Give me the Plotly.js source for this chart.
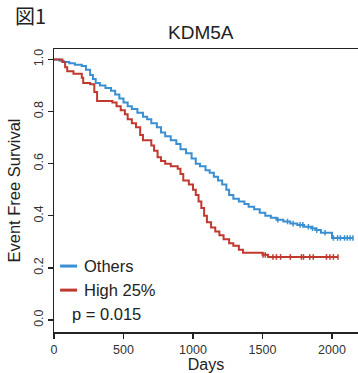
<!DOCTYPE html>
<html><head><meta charset="utf-8">
<script src="https://cdn.plot.ly/plotly-3.0.1.min.js"></script>
<style>body{margin:0;background:#fff}#c{width:358px;height:373px}</style>
</head><body><div id="c"></div>
<script>
// Others (blue) Kaplan-Meier steps
var othersDays = [0,40,70,110,150,200,230,260,280,300,330,370,410,440,470,500,530,560,600,640,670,700,740,770,800,840,880,910,950,990,1020,1050,1090,1120,1150,1180,1210,1240,1260,1290,1330,1370,1400,1440,1480,1520,1560,1600,1650,1700,1750,1800,1850,1880,1920,2000,2151];
var othersSurv = [1.0,0.995,0.99,0.985,0.98,0.975,0.96,0.94,0.925,0.91,0.9,0.89,0.88,0.865,0.85,0.835,0.82,0.81,0.795,0.78,0.77,0.755,0.74,0.72,0.705,0.69,0.675,0.655,0.64,0.62,0.6,0.59,0.575,0.565,0.55,0.535,0.52,0.5,0.48,0.465,0.455,0.445,0.435,0.425,0.412,0.4,0.392,0.385,0.378,0.37,0.365,0.358,0.352,0.345,0.335,0.315,0.315];
var othersCensDays = [1610,1680,1720,1770,1790,1830,1860,1890,1950,2010,2040,2060,2090,2110,2130,2151];
var othersCensSurv = [0.385,0.378,0.37,0.365,0.365,0.358,0.352,0.345,0.335,0.315,0.315,0.315,0.315,0.315,0.315,0.315];
// High 25% (red)
var highDays = [0,60,80,95,140,200,210,260,290,310,420,450,480,510,530,560,590,620,640,700,720,745,770,800,840,890,910,930,970,1000,1020,1040,1060,1080,1100,1130,1160,1190,1220,1260,1290,1330,1360,1500,1540,2043];
var highSurv = [1.0,0.99,0.97,0.955,0.945,0.93,0.91,0.905,0.875,0.84,0.835,0.82,0.805,0.79,0.77,0.755,0.74,0.71,0.69,0.67,0.65,0.625,0.61,0.6,0.59,0.58,0.56,0.535,0.52,0.5,0.48,0.455,0.43,0.4,0.375,0.355,0.34,0.325,0.31,0.295,0.285,0.27,0.258,0.25,0.242,0.242];
var highCensDays = [1504,1520,1575,1600,1630,1700,1780,1795,1840,1865,1960,1985,2010,2043];
var highCensSurv = [0.25,0.25,0.242,0.242,0.242,0.242,0.242,0.242,0.242,0.242,0.242,0.242,0.242,0.242];
var xTicks = [0,500,1000,1500,2000];
var yTicks = [0.0,0.2,0.4,0.6,0.8,1.0];
var yTickText = ['0.0','0.2','0.4','0.6','0.8','1.0'];

var blue = '#3a8fd2', red = '#c0392f', ink = '#222';
var F = 'Liberation Sans, Arial, sans-serif';

var traces = [
  {x: othersDays, y: othersSurv, mode: 'lines', line: {shape: 'hv', color: blue, width: 2}},
  {x: highDays, y: highSurv, mode: 'lines', line: {shape: 'hv', color: red, width: 2}},
  {x: othersCensDays, y: othersCensSurv, mode: 'markers', marker: {symbol: 'line-ns-open', size: 4, color: blue, line: {color: blue, width: 1.5}}},
  {x: highCensDays, y: highCensSurv, mode: 'markers', marker: {symbol: 'line-ns-open', size: 4, color: red, line: {color: red, width: 1.5}}}
];

var layout = {
  width: 358, height: 373,
  margin: {l: 54, r: 0, t: 49, b: 41},
  showlegend: false,
  paper_bgcolor: '#fff', plot_bgcolor: '#fff',
  font: {family: F, color: ink},
  xaxis: {
    range: [0, 2187], tickvals: xTicks, ticks: 'outside', ticklen: 5, tickwidth: 1.2, tickcolor: ink,
    showline: true, linecolor: ink, linewidth: 1.5, mirror: true, showgrid: false, zeroline: false,
    tickfont: {size: 12.5, color: '#333'},
    title: {text: 'Days', font: {size: 16, color: ink}, standoff: 3}
  },
  yaxis: {
    range: [-0.046, 1.04], tickvals: yTicks, ticktext: yTickText, tickangle: -90,
    ticks: 'outside', ticklen: 5, tickwidth: 1.2, tickcolor: ink,
    showline: true, linecolor: ink, linewidth: 1.5, showgrid: false, zeroline: false,
    tickfont: {size: 12.5, color: '#333'},
    title: {text: 'Event Free Survival', font: {size: 16.5, color: ink}, standoff: 6}
  },
  shapes: [
    {type: 'line', xref: 'paper', yref: 'paper', x0: 0.02, x1: 0.076, y0: 0.233, y1: 0.233, line: {color: blue, width: 3}},
    {type: 'line', xref: 'paper', yref: 'paper', x0: 0.02, x1: 0.076, y0: 0.148, y1: 0.148, line: {color: red, width: 3}}
  ],
  annotations: [
    {xref: 'paper', yref: 'paper', x: -0.135, y: 1.12, xanchor: 'left', yanchor: 'middle', text: '図1', showarrow: false, font: {family: 'Noto Sans CJK JP, sans-serif', size: 20, color: ink}},
    {xref: 'paper', yref: 'paper', x: 0.484, y: 1.057, xanchor: 'center', yanchor: 'middle', text: 'KDM5A', showarrow: false, font: {size: 19, color: ink}},
    {xref: 'paper', yref: 'paper', x: 0.092, y: 0.233, xanchor: 'left', yanchor: 'middle', text: 'Others', showarrow: false, font: {size: 16.5, color: ink}},
    {xref: 'paper', yref: 'paper', x: 0.092, y: 0.148, xanchor: 'left', yanchor: 'middle', text: 'High 25%', showarrow: false, font: {size: 16.5, color: ink}},
    {xref: 'paper', yref: 'paper', x: 0.0526, y: 0.0636, xanchor: 'left', yanchor: 'middle', text: 'p = 0.015', showarrow: false, font: {size: 16.5, color: ink}}
  ]
};
Plotly.newPlot('c', traces, layout, {staticPlot: true, displayModeBar: false});
</script></body></html>
